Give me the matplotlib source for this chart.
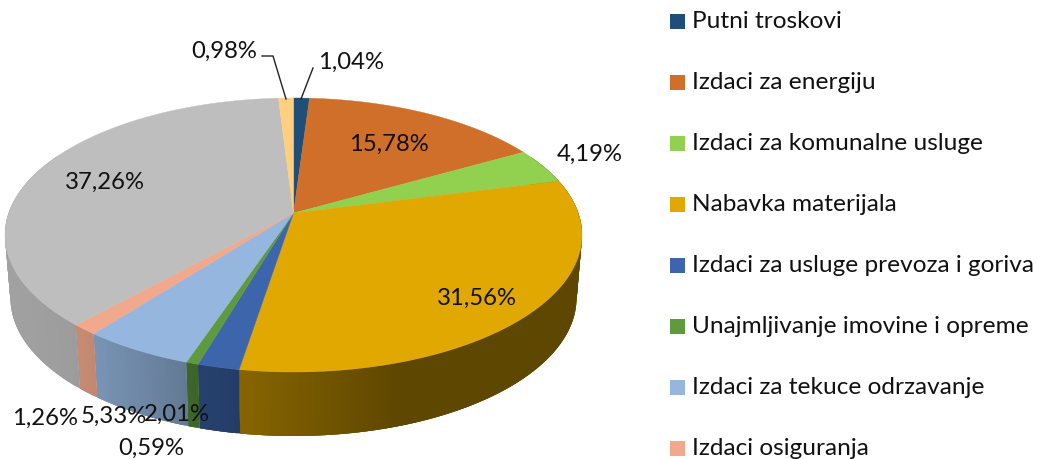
import numpy as np
import matplotlib
matplotlib.use("Agg")
import matplotlib.pyplot as plt
from matplotlib.colors import to_rgb

plt.rcParams['font.family'] = ['Lato', 'DejaVu Sans']

names = ["Putni troskovi", "Izdaci za energiju", "Izdaci za komunalne usluge", "Nabavka materijala",
         "Izdaci za usluge prevoza i goriva", "Unajmljivanje imovine i opreme",
         "Izdaci za tekuce odrzavanje", "Izdaci osiguranja"]
values = [1.04, 15.78, 4.19, 31.56, 2.01, 0.59, 5.33, 1.26, 37.26, 0.98]
colors = ["#1F4E79", "#D06F2A", "#92D050", "#E0A800", "#3C65AC", "#5F9A3E",
          "#95B7DF", "#F0A98C", "#BEBEBE", "#FFCF7F"]
label_pos = [(351, 62), (389, 144), (590, 154), (477, 298), (177, 414),
             (151, 448), (114, 416), (45, 418), (105, 182), (224, 51)]

TOP = (293.5, 235, 288.5, 137)
BOT = (293.5, 298, 283, 138)
A = 0.16


def project(theta, r, ell):
    cx, cy, rx, ry = ell
    u, v = r * np.sin(theta), r * np.cos(theta)
    d = 1 + A * v
    return cx + rx * u * np.sqrt(1 - A * A) / d, cy - ry * (v + A) / d


def shade(x):
    return np.interp(x, [5, 80, 100, 190, 240, 400, 580], [.85, .82, .8, .66, .6, .42, .42])


fig = plt.figure(figsize=(10.37, 4.59), dpi=100)
ax = fig.add_axes([0, 0, 1, 1])
ax.set_xlim(0, 1037)
ax.set_ylim(459, 0)
ax.axis('off')

edges = 2 * np.pi * np.concatenate([[0], np.cumsum(values)]) / sum(values)

# side walls: overlapping strips, each painted over the one before
for i, c in enumerate(colors):
    base = np.array(to_rgb(c))
    n = max(2, int((edges[i + 1] - edges[i]) / 0.008))
    ts = np.linspace(edges[i], edges[i + 1], n + 1)
    for j in range(n):
        t0, t1 = ts[j], ts[min(j + 3, n)]
        if np.cos((ts[j] + ts[j + 1]) / 2) > 0.45:
            continue
        tt = np.linspace(t0, t1, 4)
        xt, yt = project(tt, 1, TOP)
        xb, yb = project(tt, 1, BOT)
        col = base * shade(xt[:2].mean())
        ax.fill(np.r_[xt, xb[::-1]], np.r_[yt, yb[::-1]], facecolor=col, edgecolor='none', lw=0, zorder=2)

# top face
for i, c in enumerate(colors):
    ts = np.linspace(edges[i], edges[i + 1], 80)
    xr, yr = project(ts, 1, TOP)
    x0, y0 = project(0.0, 0, TOP)
    ax.fill(np.r_[x0, xr], np.r_[y0, yr], facecolor=c, edgecolor=c, lw=0.3, zorder=3)

# data labels
for v, (lx, ly) in zip(values, label_pos):
    ax.text(lx, ly, f"{v:.2f}%".replace('.', ','), ha='center', va='center',
            fontsize=17.2, color='#111111', zorder=5)

# leader lines
ax.plot([262, 273, 286], [56, 56, 99], color='#222222', lw=1, zorder=4)
ax.plot([313, 301], [68, 99], color='#222222', lw=1, zorder=4)

# legend
for i, name in enumerate(names):
    yc = 21.5 + 61 * i
    ax.fill([670, 685, 685, 670], [yc - 7.5, yc - 7.5, yc + 7.5, yc + 7.5], color=colors[i], lw=0, zorder=3)
    ax.text(692, yc, name, ha='left', va='center', fontsize=17.6, color='#111111', zorder=5)

fig.savefig("out.png", dpi=100)
